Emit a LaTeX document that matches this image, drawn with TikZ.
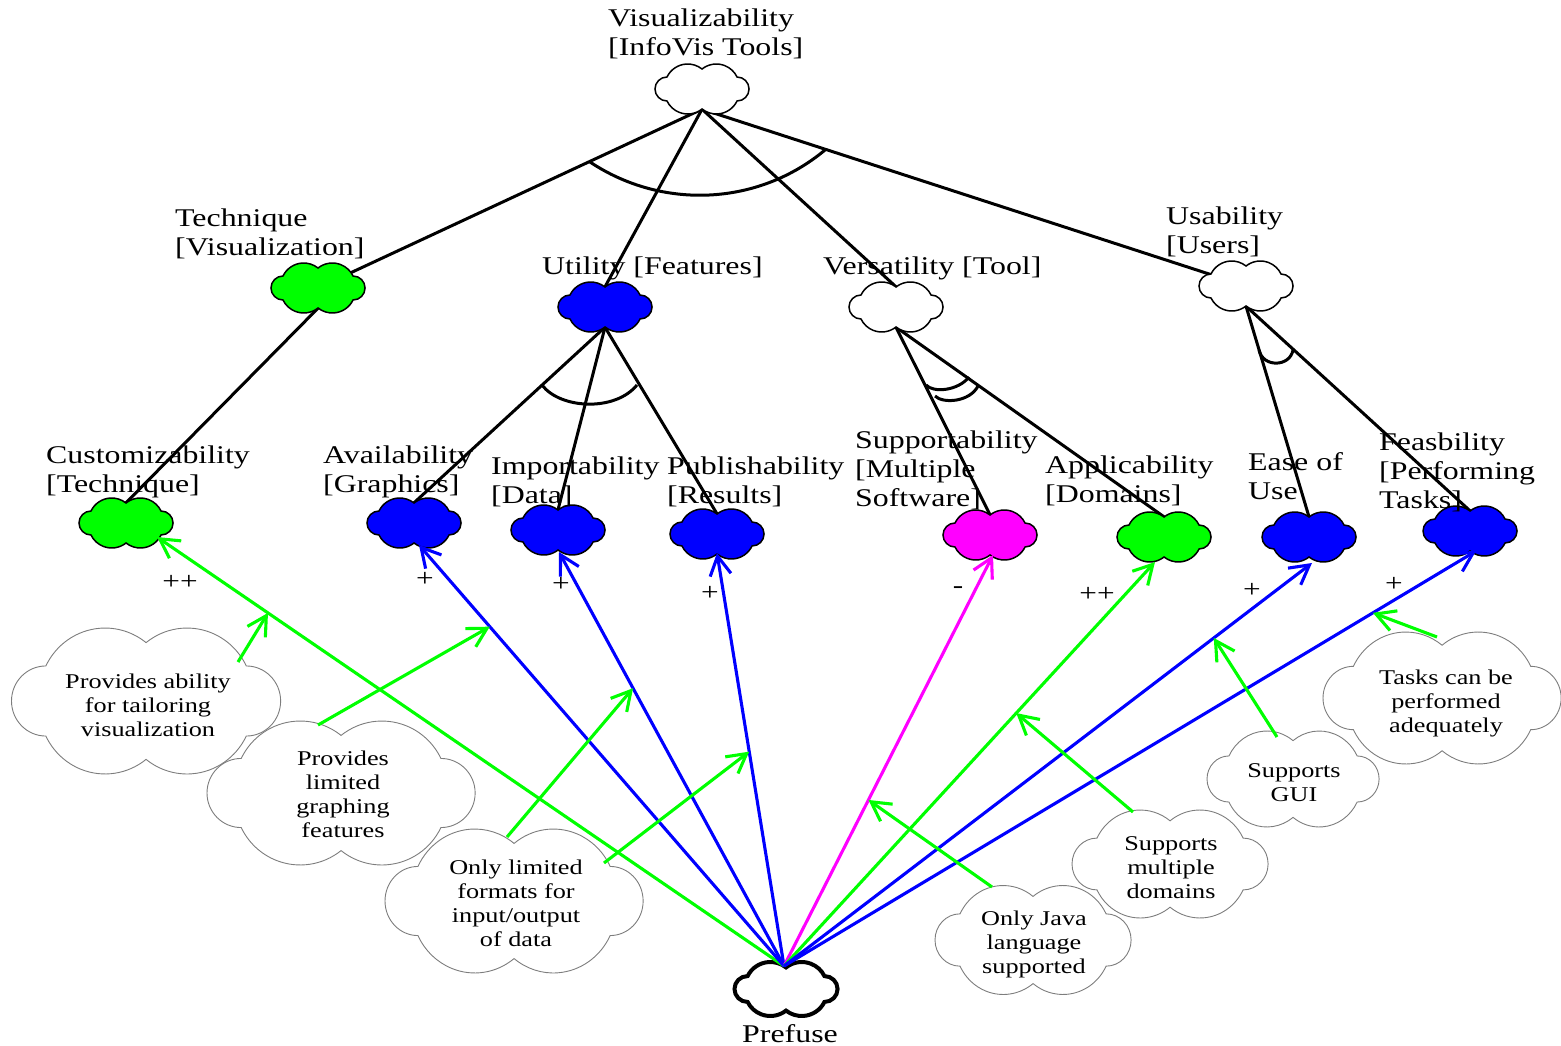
\documentclass[tikz,border=0pt]{standalone}
\usepackage{fontspec}
\setmainfont{Liberation Serif}[FakeStretch=1.25]
\usetikzlibrary{arrows.meta,calc,shapes.geometric}
\definecolor{pgreen}{RGB}{0,255,0}
\definecolor{pblue}{RGB}{0,0,255}
\definecolor{pmag}{RGB}{255,0,255}
\definecolor{cgray}{RGB}{125,125,125}
\newcommand\lblfont{\fontsize{25.5}{29}\selectfont}
\newcommand\clmfont{\fontsize{21}{24}\selectfont}
\newcommand\ctbfont{\fontsize{25}{26}\selectfont}
\tikzset{
  pics/cld/.style={code={
    \path[pic actions] (-35,-12)
      arc[start angle=205.8,end angle=308.5,radius=23]
      arc[start angle=231.5,end angle=334.2,radius=23]
      arc[start angle=270,end angle=450,radius=12]
      arc[start angle=25.8,end angle=128.5,radius=23]
      arc[start angle=51.5,end angle=154.2,radius=23]
      arc[start angle=90,end angle=270,radius=12] -- cycle;}},
  lab/.style={anchor=north west, inner sep=0pt, align=left, font=\lblfont},
  clm/.style={anchor=north, inner sep=0pt, align=center, font=\clmfont},
  ctb/.style={inner sep=0pt, font=\ctbfont},
  sgpt/.style={ellipse, minimum width=94pt, minimum height=40pt, inner sep=0pt},
  dec/.style={line width=3pt, black},
  ctr/.style={line width=3.1pt, -{Straight Barb[length=19pt,width=21pt]}},
  sgc/.style={draw=black, line width=1.5pt},
  clc/.style={draw=cgray, line width=0.9pt}
}
\begin{document}
\begin{tikzpicture}[x=1pt,y=-1pt]
\useasboundingbox (0,0) rectangle (1561,1046);
% softgoal anchor nodes
\node[sgpt] (vis) at (702,89) {};
\node[sgpt] (tech) at (318,288) {};
\node[sgpt] (util) at (605,307) {};
\node[sgpt] (vers) at (896,307) {};
\node[sgpt] (usab) at (1246,286) {};
\node[sgpt] (cust) at (126,523) {};
\node[sgpt] (avail) at (414,523) {};
\node[sgpt] (imp) at (558,530) {};
\node[sgpt] (pub) at (717,534) {};
\node[sgpt] (supp) at (990,535) {};
\node[sgpt] (appl) at (1164,537) {};
\node[sgpt] (ease) at (1309,537) {};
\node[sgpt] (feas) at (1470,531) {};
\node[sgpt, minimum width=103pt, minimum height=44pt] (pf) at (786,989) {};
% decomposition links
\draw[dec] (vis.south) -- (tech.center);
\draw[dec] (vis.south) -- (util.north);
\draw[dec] (vis.south) -- (vers.north);
\draw[dec] (vis.south) -- (usab.center);
\draw[dec] (tech.south) -- (cust.north);
\draw[dec] (util.south) -- (avail.north);
\draw[dec] (util.south) -- (imp.north);
\draw[dec] (util.south) -- (pub.north);
\draw[dec] (vers.south) -- (supp.north);
\draw[dec] (vers.south) -- (appl.north);
\draw[dec] (usab.south) -- (ease.north);
\draw[dec] (usab.south) -- (feas.north);
% decomposition arcs
\draw[dec] (590,162) .. controls (662,210) and (758,206) .. (825,150);
\draw[dec] (542,385) .. controls (560,409) and (615,412) .. (637,385);
\draw[dec] (926,385) .. controls (933,393) and (958,391) .. (969,377);
\draw[dec] (935,396) .. controls (943,404) and (970,402) .. (978,386);
\draw[dec] (1259,350) .. controls (1263,368) and (1290,367) .. (1293,350);
% softgoal clouds
\pic[sgc, fill=white] at (vis) {cld};
\pic[sgc, fill=pgreen] at (tech) {cld};
\pic[sgc, fill=pblue] at (util) {cld};
\pic[sgc, fill=white] at (vers) {cld};
\pic[sgc, fill=white] at (usab) {cld};
\pic[sgc, fill=pgreen] at (cust) {cld};
\pic[sgc, fill=pblue] at (avail) {cld};
\pic[sgc, fill=pblue] at (imp) {cld};
\pic[sgc, fill=pblue] at (pub) {cld};
\pic[sgc, fill=pmag] at (supp) {cld};
\pic[sgc, fill=pgreen] at (appl) {cld};
\pic[sgc, fill=pblue] at (ease) {cld};
\pic[sgc, fill=pblue] at (feas) {cld};
\pic[draw=black, line width=4pt, fill=white, xscale=1.096, yscale=1.08] at (pf) {cld};
% claim clouds
\coordinate (c1c) at (146,701);
\coordinate (c2c) at (341,793);
\coordinate (c3c) at (514,901);
\coordinate (c4c) at (1033,940);
\coordinate (c5c) at (1170,864);
\coordinate (c6c) at (1293,779);
\coordinate (c7c) at (1442,698);
\pic[clc, xscale=269/94, yscale=146/50] at (c1c) {cld};
\pic[clc, xscale=268/94, yscale=144/50] at (c2c) {cld};
\pic[clc, xscale=258/94, yscale=144/50] at (c3c) {cld};
\pic[clc, xscale=196/94, yscale=109/50] at (c4c) {cld};
\pic[clc, xscale=196/94, yscale=108/50] at (c5c) {cld};
\pic[clc, xscale=172/94, yscale=96/50] at (c6c) {cld};
\pic[clc, xscale=238/94, yscale=132/50] at (c7c) {cld};
% contribution arrows
\coordinate (pfo) at (784,966);
\coordinate (cu-in) at (157,537);
\coordinate (av-in) at (419,545);
\coordinate (im-in) at (559,552);
\coordinate (pu-in) at (717,553);
\coordinate (su-in) at (993,555);
\coordinate (ap-in) at (1155,562);
\coordinate (ea-in) at (1312,563);
\coordinate (fe-in) at (1476,551);
\draw[ctr, pgreen] (pfo) -- (cu-in);
\draw[ctr, pblue] (pfo) -- (av-in);
\draw[ctr, pblue] (pfo) -- (im-in);
\draw[ctr, pblue] (pfo) -- (pu-in);
\draw[ctr, pmag] (pfo) -- (su-in);
\draw[ctr, pgreen] (pfo) -- (ap-in);
\draw[ctr, pblue] (pfo) -- (ea-in);
\draw[ctr, pblue] (pfo) -- (fe-in);
% claim arrows
\coordinate (m1) at ($(pfo)!0.823!(cu-in)$);
\coordinate (m2) at ($(pfo)!0.806!(av-in)$);
\coordinate (m3) at ($(pfo)!0.671!(im-in)$);
\coordinate (m4) at ($(pfo)!0.519!(pu-in)$);
\coordinate (m5) at ($(pfo)!0.404!(su-in)$);
\coordinate (m6) at ($(pfo)!0.626!(ap-in)$);
\coordinate (m7) at ($(pfo)!0.814!(ea-in)$);
\coordinate (m8) at ($(pfo)!0.851!(fe-in)$);
\coordinate (s1) at (238,662);
\coordinate (s2) at (318,725);
\coordinate (s3a) at (507,837);
\coordinate (s3b) at (604,863);
\coordinate (s4) at (992,887);
\coordinate (s5) at (1133,812);
\coordinate (s6) at (1277,737);
\coordinate (s7) at (1437,637);
\draw[ctr, pgreen] (s1) -- (m1);
\draw[ctr, pgreen] (s2) -- (m2);
\draw[ctr, pgreen] (s3a) -- (m3);
\draw[ctr, pgreen] (s3b) -- (m4);
\draw[ctr, pgreen] (s4) -- (m5);
\draw[ctr, pgreen] (s5) -- (m6);
\draw[ctr, pgreen] (s6) -- (m7);
\draw[ctr, pgreen] (s7) -- (m8);
% labels
\node[lab] (vis-l) at (608,6) {\strut Visualizability\\{[}InfoVis Tools{]}};
\node[lab] (tech-l) at (175,206) {\strut Technique\\{[}Visualization{]}};
\node[lab] (util-l) at (542,254) {\strut Utility [Features]};
\node[lab] (vers-l) at (823,254) {\strut Versatility [Tool]};
\node[lab] (usab-l) at (1166,204) {\strut Usability\\{[}Users{]}};
\node[lab] (cust-l) at (46,443) {\strut Customizability\\{[}Technique{]}};
\node[lab] (avail-l) at (323,443) {\strut Availability\\{[}Graphics{]}};
\node[lab] (imp-l) at (491,454) {\strut Importability\\{[}Data{]}};
\node[lab] (pub-l) at (667,454) {\strut Publishability\\{[}Results{]}};
\node[lab] (supp-l) at (855,428) {\strut Supportability\\{[}Multiple\\Software{]}};
\node[lab] (appl-l) at (1045,453) {\strut Applicability\\{[}Domains{]}};
\node[lab] (ease-l) at (1248,450) {\strut Ease of\\Use};
\node[lab] (feas-l) at (1379,430) {\strut Feasbility\\{[}Performing\\Tasks{]}};
\node[lab] (pf-l) at (742,1022) {\strut Prefuse};
% contribution labels
\node[ctb] (k1) at (180,582) {++};
\node[ctb] (k2) at (425,579) {+};
\node[ctb] (k3) at (561,584) {+};
\node[ctb] (k4) at (710,593) {+};
\node[ctb] (k5) at (958,590) {-};
\node[ctb] (k6) at (1097,594) {++};
\node[ctb] (k7) at (1252,590) {+};
\node[ctb] (k8) at (1394,584) {+};
% claim texts
\node[clm] (c1) at (148,671) {\strut Provides ability\\for tailoring\\visualization};
\node[clm] (c2) at (343,748) {\strut Provides\\limited\\graphing\\features};
\node[clm] (c3) at (516,857) {\strut Only limited\\formats for\\input/output\\of data};
\node[clm] (c4) at (1034,908) {\strut Only Java\\language\\supported};
\node[clm] (c5) at (1171,833) {\strut Supports\\multiple\\domains};
\node[clm] (c6) at (1294,760) {\strut Supports\\GUI};
\node[clm] (c7) at (1446,667) {\strut Tasks can be\\performed\\adequately};
\end{tikzpicture}
\end{document}
